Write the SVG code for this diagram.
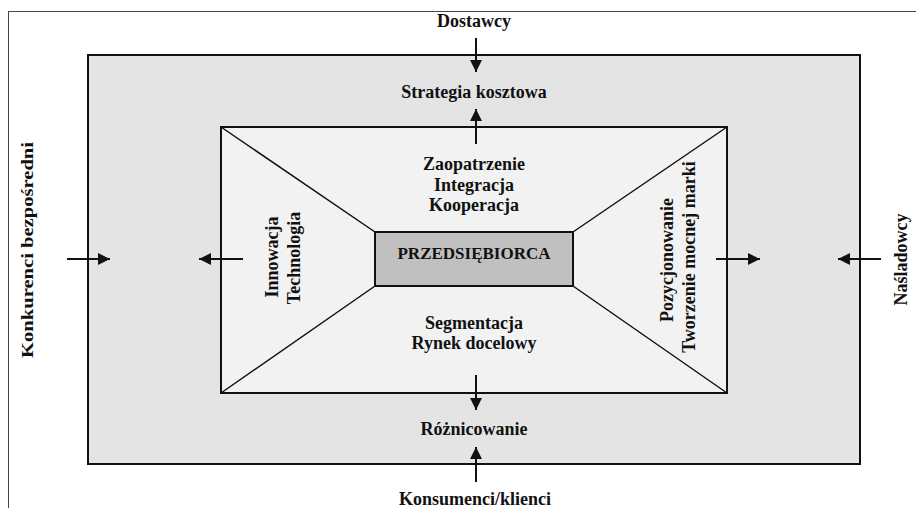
<svg xmlns="http://www.w3.org/2000/svg" width="916" height="508" viewBox="0 0 916 508">
<style>
text{font-family:"Liberation Serif","Times New Roman",serif;font-weight:bold;font-size:18px;fill:#111;text-anchor:middle}
.ln{stroke:#111;stroke-width:2;fill:none}
.dg{stroke:#111;stroke-width:1.5;fill:none}
</style>
<defs>
<marker id="ah" viewBox="0 0 12 12" refX="12" refY="6" markerWidth="12" markerHeight="12" markerUnits="userSpaceOnUse" orient="auto">
<path d="M0,0 L12,6 L0,12 Z" fill="#111"/>
</marker>
</defs>
<rect id="frame" x="8.5" y="11.5" width="1000" height="600" fill="#fff" stroke="#444" stroke-width="1"/>
<g id="outer">
<rect x="88" y="55" width="772" height="409" fill="#e4e4e4" stroke="#111" stroke-width="2"/>
</g>
<g id="inner">
<rect x="221" y="127" width="506" height="266" fill="#f2f2f2" stroke="#111" stroke-width="2"/>
<path class="dg" d="M221,127 L375,232 M727,127 L573,232 M221,393 L375,286 M727,393 L573,286"/>
</g>
<g id="center">
<rect x="375" y="232" width="198" height="54" fill="#c0c0c0" stroke="#111" stroke-width="2"/>
<text x="474" y="259" style="font-size:17px">PRZEDSIĘBIORCA</text>
</g>
<g id="connectors">
<line class="ln" x1="476" y1="38" x2="476" y2="72" marker-end="url(#ah)"/>
<line class="ln" x1="476" y1="144" x2="476" y2="109" marker-end="url(#ah)"/>
<line class="ln" x1="476" y1="375" x2="476" y2="410" marker-end="url(#ah)"/>
<line class="ln" x1="476" y1="482" x2="476" y2="447" marker-end="url(#ah)"/>
<line class="ln" x1="67" y1="259" x2="110" y2="259" marker-end="url(#ah)"/>
<line class="ln" x1="243" y1="259" x2="199" y2="259" marker-end="url(#ah)"/>
<line class="ln" x1="716" y1="259" x2="760" y2="259" marker-end="url(#ah)"/>
<line class="ln" x1="881" y1="259" x2="838" y2="259" marker-end="url(#ah)"/>
</g>
<g id="dostawcy"><text x="474" y="27">Dostawcy</text></g>
<g id="strategia"><text x="474" y="98">Strategia kosztowa</text></g>
<g id="zaopatrzenie">
<text x="474" y="170">Zaopatrzenie</text>
<text x="474" y="191">Integracja</text>
<text x="474" y="211">Kooperacja</text>
</g>
<g id="segmentacja">
<text x="474" y="329">Segmentacja</text>
<text x="474" y="349">Rynek docelowy</text>
</g>
<g id="roznicowanie"><text x="474" y="435">Różnicowanie</text></g>
<g id="konsumenci"><text x="475" y="505">Konsumenci/klienci</text></g>
<g id="innowacja">
<text transform="translate(278,257) rotate(-90)">Innowacja</text>
<text transform="translate(300,258) rotate(-90)">Technologia</text>
</g>
<g id="pozycjonowanie">
<text transform="translate(673,260) rotate(-90)">Pozycjonowanie</text>
<text transform="translate(695,257) rotate(-90)">Tworzenie mocnej marki</text>
</g>
<g id="konkurenci"><text transform="translate(33,250) rotate(-90)" textLength="216" lengthAdjust="spacingAndGlyphs" style="font-size:16px">Konkurenci bezpośredni</text></g>
<g id="nasladowcy"><text transform="translate(907,259.5) rotate(-90)">Naśladowcy</text></g>
</svg>
